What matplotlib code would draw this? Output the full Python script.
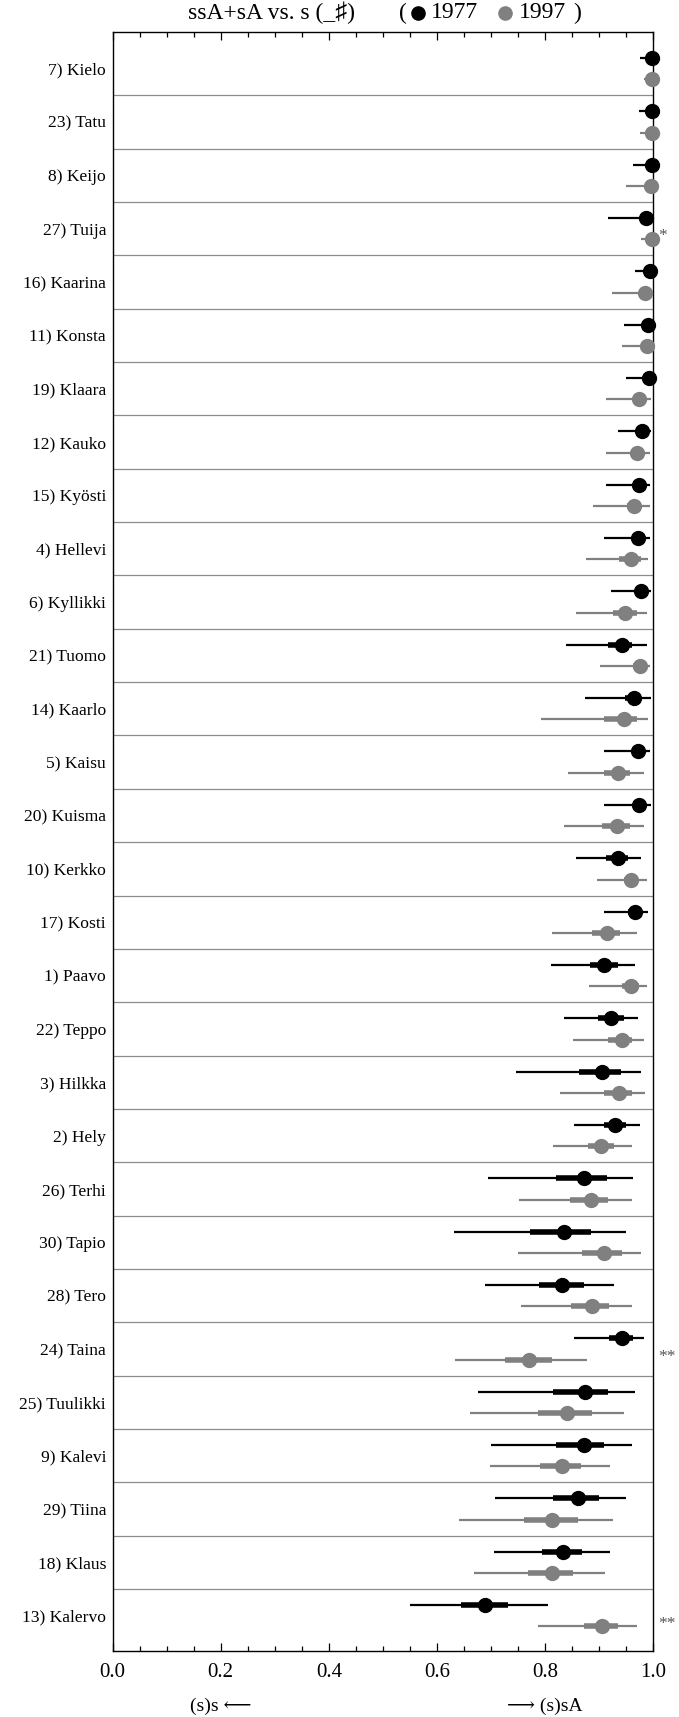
import numpy as np
import matplotlib
matplotlib.use("Agg")
import matplotlib.pyplot as plt
from matplotlib.lines import Line2D
from matplotlib.ticker import MultipleLocator
from matplotlib import transforms

plt.rcParams['font.family'] = ['Liberation Serif', 'DejaVu Serif', 'DejaVu Sans']

# Speakers, top to bottom
names = ["7) Kielo", "23) Tatu", "8) Keijo", "27) Tuija", "16) Kaarina",
         "11) Konsta", "19) Klaara", "12) Kauko", "15) Kyösti", "4) Hellevi",
         "6) Kyllikki", "21) Tuomo", "14) Kaarlo", "5) Kaisu", "20) Kuisma",
         "10) Kerkko", "17) Kosti", "1) Paavo", "22) Teppo", "3) Hilkka",
         "2) Hely", "26) Terhi", "30) Tapio", "28) Tero", "24) Taina",
         "25) Tuulikki", "9) Kalevi", "29) Tiina", "18) Klaus", "13) Kalervo"]

# 1977: estimate, inner interval, outer interval
est77 = [0.997, 0.997, 0.997, 0.986, 0.994, 0.991, 0.992, 0.980, 0.974, 0.972,
         0.977, 0.943, 0.964, 0.972, 0.974, 0.934, 0.966, 0.909, 0.921, 0.906,
         0.930, 0.872, 0.834, 0.832, 0.943, 0.873, 0.871, 0.860, 0.833, 0.688]
in_lo77 = [0.990, 0.990, 0.990, 0.975, 0.985, 0.982, 0.983, 0.970, 0.962, 0.960,
           0.966, 0.916, 0.948, 0.960, 0.963, 0.913, 0.953, 0.883, 0.898, 0.863,
           0.909, 0.821, 0.772, 0.789, 0.919, 0.815, 0.820, 0.815, 0.794, 0.644]
in_hi77 = [1.000, 1.000, 1.000, 0.994, 0.999, 0.997, 0.998, 0.988, 0.984, 0.982,
           0.986, 0.960, 0.978, 0.982, 0.983, 0.954, 0.978, 0.934, 0.945, 0.940,
           0.949, 0.914, 0.884, 0.871, 0.962, 0.917, 0.909, 0.900, 0.868, 0.732]
out_lo77 = [0.975, 0.974, 0.963, 0.916, 0.966, 0.946, 0.950, 0.934, 0.912, 0.908,
            0.921, 0.838, 0.874, 0.909, 0.909, 0.857, 0.909, 0.811, 0.835, 0.746,
            0.853, 0.695, 0.631, 0.688, 0.853, 0.675, 0.700, 0.708, 0.706, 0.550]
out_hi77 = [1.000, 1.000, 1.000, 0.998, 1.000, 0.999, 0.999, 0.995, 0.994, 0.994,
            0.995, 0.988, 0.995, 0.994, 0.995, 0.977, 0.991, 0.966, 0.971, 0.977,
            0.975, 0.963, 0.949, 0.928, 0.983, 0.967, 0.960, 0.950, 0.920, 0.806]

# 1997: estimate, inner interval, outer interval
est97 = [0.997, 0.997, 0.995, 0.997, 0.985, 0.988, 0.974, 0.970, 0.965, 0.958,
         0.948, 0.975, 0.945, 0.934, 0.933, 0.958, 0.914, 0.959, 0.942, 0.937,
         0.903, 0.885, 0.909, 0.886, 0.771, 0.840, 0.831, 0.813, 0.812, 0.906]
in_lo97 = [0.990, 0.990, 0.986, 0.990, 0.975, 0.978, 0.962, 0.958, 0.952, 0.937,
           0.926, 0.962, 0.908, 0.909, 0.906, 0.945, 0.886, 0.942, 0.917, 0.909,
           0.879, 0.846, 0.868, 0.848, 0.726, 0.786, 0.791, 0.761, 0.768, 0.871]
in_hi97 = [1.000, 1.000, 1.000, 1.000, 0.994, 0.996, 0.985, 0.981, 0.977, 0.978,
           0.969, 0.986, 0.969, 0.957, 0.957, 0.970, 0.938, 0.974, 0.961, 0.961,
           0.927, 0.917, 0.943, 0.918, 0.812, 0.886, 0.866, 0.860, 0.851, 0.934]
out_lo97 = [0.982, 0.975, 0.950, 0.978, 0.924, 0.943, 0.912, 0.912, 0.889, 0.875,
            0.857, 0.901, 0.792, 0.843, 0.835, 0.895, 0.812, 0.881, 0.852, 0.828,
            0.815, 0.751, 0.749, 0.756, 0.634, 0.661, 0.698, 0.641, 0.669, 0.786]
out_hi97 = [1.000, 1.000, 1.000, 1.000, 0.998, 0.999, 0.996, 0.993, 0.994, 0.991,
            0.988, 0.994, 0.991, 0.982, 0.982, 0.988, 0.970, 0.989, 0.983, 0.985,
            0.960, 0.960, 0.978, 0.960, 0.877, 0.945, 0.920, 0.925, 0.911, 0.969]

# significance of the 1977 -> 1997 change
stars = ["", "", "", "*", "", "", "", "", "", "",
         "", "", "", "", "", "", "", "", "", "",
         "", "", "", "", "**", "", "", "", "", "**"]

xticks = [0.0, 0.2, 0.4, 0.6, 0.8, 1.0]

C77 = "black"
C97 = "#808080"

W, H = 679, 1717
fig = plt.figure(figsize=(W / 100, H / 100), dpi=100)
ax_l, ax_r, ax_t, ax_b = 112.5, 653.3, 31.7, 1650.5
ax = fig.add_axes([ax_l / W, 1 - ax_b / H, (ax_r - ax_l) / W, (ax_b - ax_t) / H])

n = len(names)
y = np.arange(n)
off = 0.2

for i in range(n - 1):
    ax.axhline(i + 0.5, color="#8c8c8c", lw=0.9, zorder=1)

for yy, est, ilo, ihi, olo, ohi, col in [
        (y - off, est77, in_lo77, in_hi77, out_lo77, out_hi77, C77),
        (y + off, est97, in_lo97, in_hi97, out_lo97, out_hi97, C97)]:
    ax.hlines(yy, olo, ohi, color=col, lw=1.6, zorder=3)
    ax.hlines(yy, ilo, ihi, color=col, lw=4.0, zorder=4)
    ax.plot(est, yy, "o", ms=10, color=col, mec=col, clip_on=False, zorder=5)

for i, s in enumerate(stars):
    if s:
        ax.text(1.009, i + 0.22, s, ha="left", va="baseline", fontsize=12.5,
                color="#555555", clip_on=False)

ax.set_xlim(0, 1)
ax.set_ylim(29.65, -0.69)
ax.set_yticks(y)
ax.set_yticklabels(names, fontsize=12.6)
ax.tick_params(axis="y", length=0, pad=4.6)
ax.set_xticks(xticks)
ax.set_xticklabels([f"{t:.1f}" for t in xticks], fontsize=15)
ax.xaxis.set_minor_locator(MultipleLocator(0.05))
ax.tick_params(axis="x", which="both", direction="in", top=True, bottom=True,
               width=0.9, pad=9)
ax.tick_params(axis="x", which="major", length=6)
ax.tick_params(axis="x", which="minor", length=3.6)
for sp in ax.spines.values():
    sp.set_linewidth(1.0)

# direction labels under the axis
tr = transforms.blended_transform_factory(ax.transData, fig.transFigure)
ax.text(0.2, 1 - 1706 / H, "(s)s ⟵", transform=tr, ha="center", va="center",
        fontsize=14)
ax.text(0.8, 1 - 1706 / H, "⟶ (s)sA", transform=tr, ha="center", va="center",
        fontsize=14)

# title with inline legend
ty = 1 - 13 / H
tfs = 17
fig.text(188 / W, ty, "ssA+sA vs. s (_♯)", ha="left", va="center", fontsize=tfs)
fig.text(399 / W, ty, "(", ha="left", va="center", fontsize=tfs)
fig.add_artist(Line2D([418 / W], [ty], marker="o", ms=9.5, color=C77,
                      transform=fig.transFigure))
fig.text(431 / W, ty, "1977", ha="left", va="center", fontsize=tfs)
fig.add_artist(Line2D([505 / W], [ty], marker="o", ms=9.5, color=C97,
                      transform=fig.transFigure))
fig.text(519 / W, ty, "1997", ha="left", va="center", fontsize=tfs)
fig.text(573 / W, ty, ")", ha="left", va="center", fontsize=tfs)

fig.savefig("out.png", dpi=100)
